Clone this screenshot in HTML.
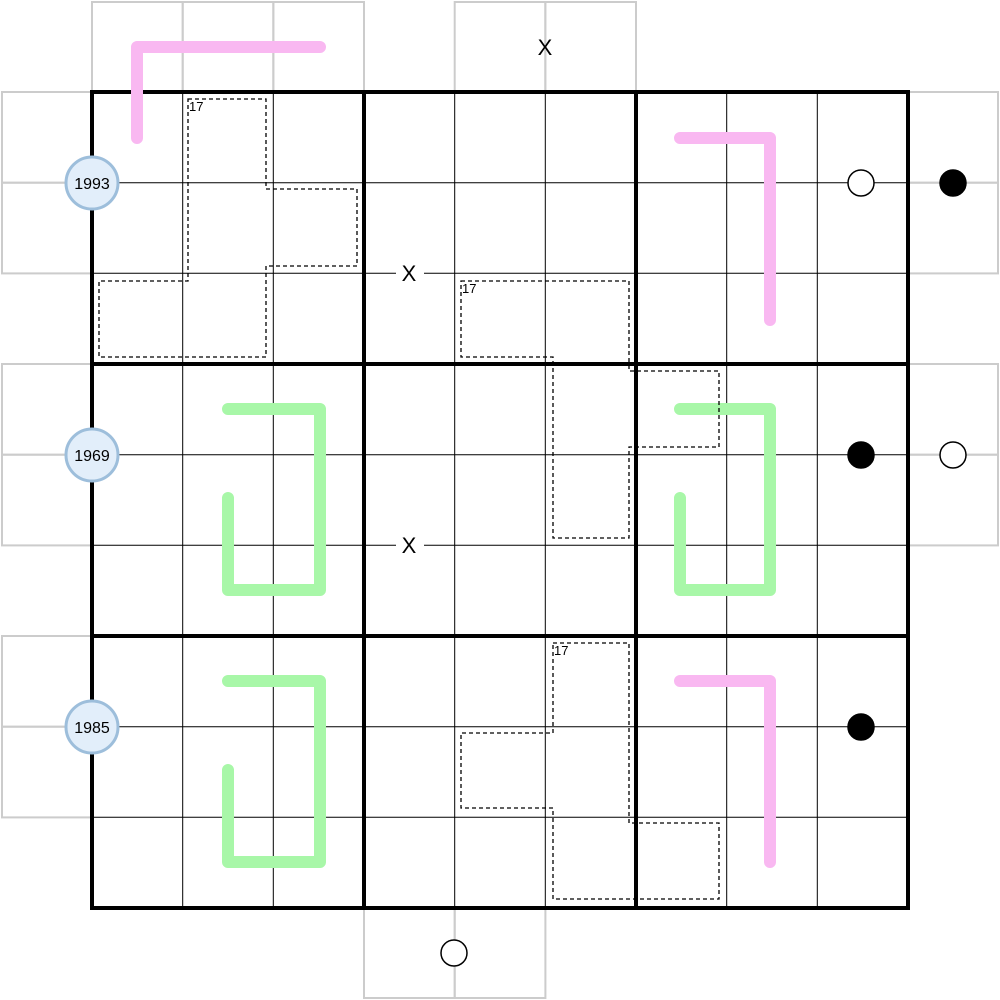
<!DOCTYPE html>
<html><head><meta charset="utf-8"><style>body{margin:0;background:#fff}svg{display:block}</style></head>
<body>
<svg width="1000" height="1000" viewBox="0 0 1000 1000" xmlns="http://www.w3.org/2000/svg" font-family="Liberation Sans, sans-serif">
<rect width="1000" height="1000" fill="#fff"/>
<g stroke="#cccccc" stroke-width="2" fill="none">
<rect x="92" y="2" width="90.7" height="90"/><rect x="182.7" y="2" width="90.7" height="90"/><rect x="273.3" y="2" width="90.7" height="90"/>
<rect x="454.7" y="2" width="90.7" height="90"/><rect x="545.3" y="2" width="90.7" height="90"/>
<rect x="2" y="92" width="90" height="90.7"/><rect x="2" y="182.7" width="90" height="90.7"/>
<rect x="2" y="364" width="90" height="90.7"/><rect x="2" y="454.7" width="90" height="90.7"/>
<rect x="2" y="636" width="90" height="90.7"/><rect x="2" y="726.7" width="90" height="90.7"/>
<rect x="908" y="92" width="90" height="90.7"/><rect x="908" y="182.7" width="90" height="90.7"/>
<rect x="908" y="364" width="90" height="90.7"/><rect x="908" y="454.7" width="90" height="90.7"/>
<rect x="364" y="908" width="90.7" height="90"/><rect x="454.7" y="908" width="90.7" height="90"/>
</g>
<g stroke="#000" stroke-width="1">
<line x1="182.7" y1="92" x2="182.7" y2="908"/><line x1="273.3" y1="92" x2="273.3" y2="908"/>
<line x1="454.7" y1="92" x2="454.7" y2="908"/><line x1="545.3" y1="92" x2="545.3" y2="908"/>
<line x1="726.7" y1="92" x2="726.7" y2="908"/><line x1="817.3" y1="92" x2="817.3" y2="908"/>
<line y1="182.7" x1="92" y2="182.7" x2="908"/><line y1="273.3" x1="92" y2="273.3" x2="908"/>
<line y1="454.7" x1="92" y2="454.7" x2="908"/><line y1="545.3" x1="92" y2="545.3" x2="908"/>
<line y1="726.7" x1="92" y2="726.7" x2="908"/><line y1="817.3" x1="92" y2="817.3" x2="908"/>
</g>
<g stroke="#000" stroke-width="4" fill="none">
<rect x="92" y="92" width="816" height="816"/>
<line x1="364" y1="92" x2="364" y2="908"/><line x1="636" y1="92" x2="636" y2="908"/>
<line y1="364" x1="92" y2="364" x2="908"/><line y1="636" x1="92" y2="636" x2="908"/>
</g>
<g fill="none" stroke-width="12" stroke-linecap="round" stroke-linejoin="round">
<g stroke="#f9b8f1">
<polyline points="137,138 137,47 320,47"/>
<polyline points="680,138 770,138 770,320"/>
<polyline points="680,681 770,681 770,862"/>
</g>
<g stroke="#a8f7a8">
<polyline points="228,409 320,409 320,590 228,590 228,498"/>
<polyline points="680,409 770,409 770,590 680,590 680,498"/>
<polyline points="228,681 320,681 320,862 228,862 228,770"/>
</g>
</g>
<g fill="none" stroke="#000" stroke-width="1.3" stroke-dasharray="4,3">
<polygon points="188,99 266,99 266,189 357,189 357,266 266,266 266,357 99,357 99,281 188,281"/>
<polygon points="461,281 629,281 629,371 719,371 719,447 629,447 629,538 553,538 553,357 461,357"/>
<polygon points="553,643 629,643 629,823 719,823 719,899 553,899 553,808 461,808 461,733 553,733"/>
</g>
<g font-size="13" fill="#000">
<text x="189" y="111">17</text><text x="462" y="293">17</text><text x="554" y="655">17</text>
</g>
<g font-size="22" text-anchor="middle" fill="#000">
<rect x="396" y="260" width="28" height="26" fill="#fff"/><text x="409" y="281">X</text>
<rect x="396" y="532" width="28" height="26" fill="#fff"/><text x="409" y="553">X</text>
<text x="545" y="55">X</text>
</g>
<g fill="#e2eefa" stroke="#9dbedb" stroke-width="3">
<circle cx="92" cy="183" r="26"/><circle cx="92" cy="455" r="26"/><circle cx="92" cy="727" r="26"/>
</g>
<g font-size="16" text-anchor="middle" fill="#000">
<text x="92" y="189">1993</text><text x="92" y="461">1969</text><text x="92" y="733">1985</text>
</g>
<g stroke="#000" stroke-width="1.5">
<circle cx="861" cy="183" r="13" fill="#fff"/><circle cx="953" cy="183" r="13" fill="#000"/>
<circle cx="861" cy="455" r="13" fill="#000"/><circle cx="953" cy="455" r="13" fill="#fff"/>
<circle cx="861" cy="727" r="13" fill="#000"/><circle cx="454" cy="953" r="13" fill="#fff"/>
</g>
</svg>
</body></html>
